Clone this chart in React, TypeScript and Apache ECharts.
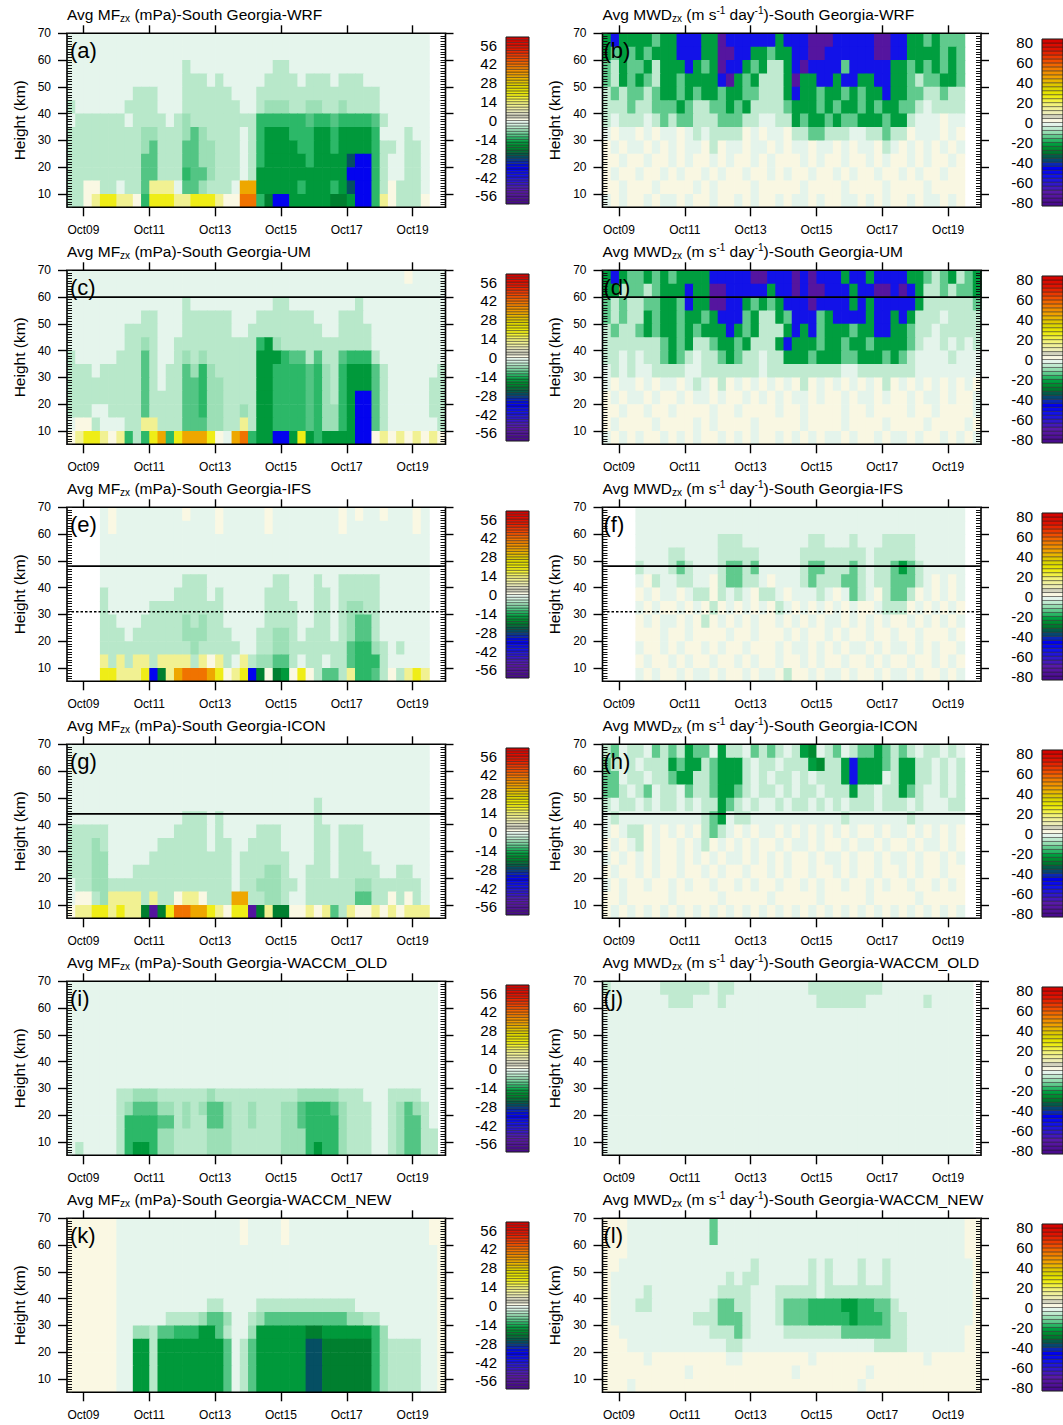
import React, { useEffect, useRef } from "react";
import * as echarts from "echarts";

// ---------- data grid: time columns (day of October) and height rows (km) ----------
const T_START = 8.5;
const T_STEP = 0.25;
const N_COLS = 46;
const H_TOP = 70;
const H_STEP = 5;
const X_MIN = 8.5;
const X_MAX = 20;
const Y_MIN = 5;
const Y_MAX = 70;

const X_TICKS = [9, 11, 13, 15, 17, 19];
const X_TICK_LABELS = ["Oct09", "Oct11", "Oct13", "Oct15", "Oct17", "Oct19"];
const Y_TICKS = [10, 20, 30, 40, 50, 60, 70];
const MF_BAR_TICKS = [-56, -42, -28, -14, 0, 14, 28, 42, 56];
const MWD_BAR_TICKS = [-80, -60, -40, -20, 0, 20, 40, 60, 80];
const MF_BAR_LIMIT = 62;
const MF_BAR_STEP = 2;
const MWD_BAR_LIMIT = 84;
const MWD_BAR_STEP = 4;

const CODE_CHARS = ["0", "1", "2", "3", "4", "5", "6", "7", "8", "9", "h", "+", "a", "b", "c", "d", "e"];
const MF_CODE_VALUES = [-1.5, -5, -8, -12, -14, -17, -21, -28, -36, -56, -10, 1, 10, 18, 32, 40, 50];
const MWD_CODE_VALUES = [-2, -7, -13, -22, -28, -32, -36, -44, -55, -76, -18, 2, 14, 25, 45, 57, 70];

// rows from 65-70 km (top) down to 5-10 km; columns every 0.25 day from Oct 8.5; "." = no data
const WRF_MF = [
  "0000 0000 0000 0000 0000 0000 0000 0000 0000 0000 0000 ..",
  "0000 0000 0000 0000 0000 0000 0000 0000 0000 0000 0000 ..",
  "0000 0000 0000 0010 0000 0000 0110 0000 0000 0000 0000 ..",
  "0000 0000 0000 0011 1010 0000 1111 0111 0111 0000 0000 ..",
  "0000 0000 1110 0011 1111 0001 1111 1111 1111 1100 0000 ..",
  "1000 0001 1110 0011 1111 1001 2221 1221 1211 1100 0000 ..",
  "0111 1110 1111 0121 1111 1114 4444 4344 3444 4310 0000 ..",
  "1111 1111 1221 1123 2111 1014 5554 4455 4555 5400 0100 ..",
  "1111 1111 1231 1133 2211 1014 5555 4455 4555 5411 0110 ..",
  "1111 1111 1331 1133 2211 1014 5555 5455 5578 8410 0110 ..",
  "1111 1111 1331 1143 3211 1015 5555 5555 5588 8410 0110 ..",
  "11++ 1101 13aa a033 2111 0cc5 5555 4555 4578 841+ 1110 ..",
  "11+a bbaa +4bb baab bba+ +dd4 6885 5555 6658 84a+ 111+ ..",
];
const WRF_MWD = [
  "3833 3323 3888 3398 8888 8388 8999 8888 8998 8332 3222 ..",
  "3232 3233 3888 3399 8833 2338 8998 8888 8998 8333 3232 ..",
  "2132 2313 3383 2398 8323 1138 9888 8288 8883 3232 3232 ..",
  "2132 3213 3233 3389 3231 1139 3388 3883 3883 3212 2332 ..",
  "1212 2123 3232 3323 3221 1138 3323 3232 3383 3221 1211 ..",
  "1112 1122 2321 1223 2311 1123 3323 2332 3233 2210 1111 ..",
  "1011 1012 1221 1122 2110 0113 2332 3223 3323 3100 0+00 ..",
  "0+00 +0+0 0+01 0111 1+0+ 00+1 1221 1100 1121 1+00 0+0+ ..",
  "+0+0 0+0+ 0+00 +1+0 0+00 +0+0 0+00 +0+0 0+10 +0+0 +0+0 ..",
  "++0+ +0++ 0+0+ +0+0 ++0+ 0+++ 0+0+ +0++ 0+0+ +0+0 ++0+ ..",
  "+0++ 0++0 +0++ 0+0+ +0++ 0+0+ +0++ 0+0+ +0++ 0+0+ +0++ ..",
  "++0+ ++0+ +++0 +0++ ++0+ ++++ 0+++ +0++ ++0+ +++0 ++++ ..",
  "0+0+ +0+0 0+0+ +0++ 0+0+ +0+0 0+0+ +00+ 0+0+ +0+0 0+0+ ..",
];
const UM_MF = [
  "0000 0000 0000 0000 0000 0000 0000 0000 0000 0000 0+00 00",
  "0000 0000 0000 0000 0000 0000 0000 0000 0000 0000 0000 00",
  "0000 0000 0000 0010 0000 0000 0110 0000 0001 0000 0000 00",
  "0000 0000 0110 0011 1111 0001 1111 1100 0111 0000 0000 00",
  "0000 0001 1110 0011 1111 0011 1111 1110 0111 1000 0000 00",
  "0000 0001 1210 0111 1111 1114 5211 1111 1111 1000 0000 00",
  "1000 0011 1310 0121 2111 1115 5543 3131 1344 4100 0000 00",
  "1110 1111 1310 1132 4211 1115 5444 4342 1455 5310 0000 01",
  "1111 1111 1310 1133 4221 1115 5444 4342 1455 5310 0000 11",
  "1111 1111 1311 1133 4221 1115 5444 4342 1458 8310 0000 11",
  "1110 0111 1311 1133 4221 1215 5444 4342 2458 8310 0000 11",
  "0++1 0001 1aa1 1133 3221 1a15 5444 4342 2458 8310 0000 01",
  "+abb a+a4 14bc 4bcc cb+0 cd45 5885 b545 5558 8+a+ a+a+ a+",
];
const UM_MWD = [
  "3832 2323 2333 3888 8899 8889 8988 8388 3888 8332 1231 23",
  "3312 2123 3383 3998 8888 3889 8998 8838 8998 9831 1212 23",
  "2121 1223 3283 3998 8323 2388 8988 8838 3888 8831 1111 12",
  "2121 1323 3233 2388 8231 1328 8823 8888 3883 8311 1011 11",
  "1211 2323 3232 3338 3231 1138 3823 3323 3883 3211 0111 11",
  "1111 1112 3231 1233 2311 1383 3323 3233 2333 3210 0101 01",
  "1101 0112 3210 1123 2110 1133 3233 3223 3323 2100 0010 00",
  "0101 0011 1100 1111 1110 1111 1111 1001 1111 1100 0000 00",
  "0+00 +0+0 0+01 0+1+ 0+0+ 0+0+ 1+0+ 0+0+ 0+1+ 0+0+ 0+0+ 0+",
  "+0+0 0+0+ +0+0 0+0+ +0+0 +0+0 0+0+ +0+0 0+0+ +0+0 0+0+ +0",
  "++0+ +0++ 0+++ +0++ 0+++ +0++ 0+++ +0++ 0+++ +0++ 0+++ +0",
  "+0++ ++0+ +++0 +0++ ++0+ ++++ 0+++ +0++ ++0+ +++0 ++++ 0+",
  "0+0+ 0++0 +0+0 ++0+ 0+0+ +0+0 +0+0 0+0+ +0+0 0+0+ +0+0 +0",
];
const IFS_MF = [
  ".... 0+00 0000 00+0 00+0 0000 +000 0000 0+0+ 00+0 00+0 ..",
  ".... 0+00 0000 0000 00+0 0000 +000 0000 0+00 0000 00+0 ..",
  ".... 0000 0000 0000 0000 0000 0000 0000 0000 0000 0000 ..",
  ".... 0000 0000 0000 0000 0000 0000 0000 0000 0000 0000 ..",
  ".... 0000 0000 0000 0000 0000 0000 0000 0000 0000 0000 ..",
  ".... 0000 0000 0011 1000 0000 0110 0010 0111 1100 0000 ..",
  ".... 1000 0000 0111 1010 0000 1110 0011 0111 1100 0000 ..",
  ".... 1000 0011 1111 1110 0000 1111 0011 0122 1100 0000 ..",
  ".... 1100 0111 1121 2110 0000 1111 0011 0123 3100 0000 ..",
  ".... 1110 1111 1122 2111 0001 1221 0111 0123 3100 0000 ..",
  ".... 1111 1111 1112 1111 1001 1221 1111 1134 4210 1000 ..",
  ".... a1a1 aa1a aaa1 a+a1 0a12 2331 0110 1134 4410 0000 ..",
  ".... bbaa ab86 acdd dcb+ ab86 +65+ b+13 31a4 431+ 1aba ..",
];
const IFS_MWD = [
  ".... 0000 0000 0000 0000 0000 0000 0000 0000 0000 0000 ..",
  ".... 0000 0000 0000 0000 0000 0000 0000 0000 0000 0000 ..",
  ".... 0000 0000 0011 1000 0000 0110 0010 0011 1100 0000 ..",
  ".... 0000 1100 0011 1110 0000 1111 1111 0111 1100 0000 ..",
  ".... 1000 1210 0012 2120 0000 1221 1121 0112 3210 0000 ..",
  ".... 0+10 0110 0+12 2110 +000 1211 1221 0112 2210 +0+0 ..",
  ".... +0+0 0+01 1+10 10+1 10+0 0010 +021 0+12 21+0 +0+0 ..",
  ".... 0+0+ +0+0 +1+0 +0+0 +10+ 0+0+ 0+0+ +011 1+0+ 0+0+ ..",
  ".... +0+0 0+0+ 1+0+ 0+0+ +0+0 +0+0 0+0+ 0+0+ +0+0 +0+0 ..",
  ".... +++0 ++0+ +++0 ++0+ ++0+ 0++0 +0++ 0++0 ++0+ ++0+ ..",
  ".... 0++0 +0++ 0+0+ +0++ +0+0 0+0+ 0+00 +0+0 0+0+ 0++0 ..",
  ".... +0++ 0+0+ +0++ 0+0+ +0++ 0+0+ +0++ 0+0+ +0++ 0+0+ ..",
  ".... 0+0+ +0+0 0+0+ +0+0 0+1+ +0+0 0+0+ +0+0 0+0+ +0+0 ..",
];
const ICON_MF = [
  "0000 0000 0000 0000 0000 0000 0000 0000 0000 0000 0000 ..",
  "0000 0000 0000 0000 0000 0000 0000 0000 0000 0000 0000 ..",
  "0000 0000 0000 0000 0000 0000 0000 0000 0000 0000 0000 ..",
  "0000 0000 0000 0000 0000 0000 0000 0000 0000 0000 0000 ..",
  "0000 0000 0000 0000 0000 0000 0000 0010 0000 0000 0000 ..",
  "0000 0000 0000 0011 1010 0000 0000 0010 0000 0000 0000 ..",
  "1111 1000 0000 0111 1010 0001 1100 0011 0111 0000 0000 ..",
  "1112 1000 0001 1111 1011 0011 1100 0011 0111 0000 0000 ..",
  "1112 2000 0011 1111 1111 0111 1110 0011 0111 1000 0000 ..",
  "1112 2000 1111 1111 1111 0111 2210 0111 0111 1100 1100 ..",
  "0112 2111 1111 1111 1111 0112 2211 0111 1112 2111 1110 ..",
  "0++1 2aaa a1a1 1+aa +111 cc11 2210 0111 1113 311+ 1+10 ..",
  "+aab baba a696 bddc cba+ bb96 a66+ +a+a 31a+ +a+a +aaa ..",
];
const ICON_MWD = [
  "1201 1021 2132 2031 1021 2101 3401 2012 2321 2101 1010 ..",
  "2101 0111 3233 1233 3101 1011 1341 1383 3321 3311 0101 ..",
  "2201 1011 2331 1233 3101 0110 1011 1383 3301 3311 0101 ..",
  "2210 1201 1021 1233 2101 1010 1101 1131 1011 3210 0101 ..",
  "1011 0101 1010 1132 1010 0101 1010 1011 1011 1010 0011 ..",
  "0100 0000 0000 1230 1100 0000 0000 0100 0000 0100 0000 ..",
  "0+01 1+0+ 0+0+ 1210 +0+0 0+0+ 0+0+ 0+0+ +0+0 0+0+ 0+0+ ..",
  "+0+0 1+0+ +0+0 1+0+ 0+0+ +0+0 0+0+ +0+0 0+0+ +0+0 0+0+ ..",
  "0+0+ 0+0+ +0+0 +0+0 0+0+ 0+0+ +0+0 0+0+ +0+0 0+0+ +0+0 ..",
  "+0++ 0+0+ +0++ 0+0+ +0++ 0+0+ +0++ 0+0+ +0++ 0+0+ +0++ ..",
  "0+0+ +0++ 0+0+ +0++ 0+0+ +0++ 0+0+ +0++ 0+0+ +0++ 0+0+ ..",
  "++0+ ++++ 0+++ ++0+ ++++ 0+++ ++0+ ++++ 0+++ ++0+ ++++ ..",
  "+0+0 +0+0 +0+0 +0+0 +0+0 +0+0 +0+0 +0+0 +0+0 +0+0 +0+0 ..",
];
const WACCM_OLD_MF = [
  "0000 0000 0000 0000 0000 0000 0000 0000 0000 0000 0000 0.",
  "0000 0000 0000 0000 0000 0000 0000 0000 0000 0000 0000 0.",
  "0000 0000 0000 0000 0000 0000 0000 0000 0000 0000 0000 0.",
  "0000 0000 0000 0000 0000 0000 0000 0000 0000 0000 0000 0.",
  "0000 0000 0000 0000 0000 0000 0000 0000 0000 0000 0000 0.",
  "0000 0000 0000 0000 0000 0000 0000 0000 0000 0000 0000 0.",
  "0000 0000 0000 0000 0000 0000 0000 0000 0000 0000 0000 0.",
  "0000 0000 0000 0000 0000 0000 0000 0000 0000 0000 0000 0.",
  "0000 0011 2221 1111 1211 1111 1111 2222 2111 0001 1110 0.",
  "0000 0012 3332 2121 2332 1121 1122 3444 3211 1001 2321 0.",
  "0000 0014 4443 3121 1332 1121 1122 3444 4211 1001 2331 0.",
  "0000 0014 4442 2111 1222 1111 1122 2444 4211 1001 2331 1.",
  "0100 0014 5542 2111 1222 1111 1122 2454 4211 1001 2331 1.",
];
const WACCM_OLD_MWD = [
  "1000 0001 1111 1011 0000 0000 0111 1111 1100 0000 0000 0.",
  "0000 0000 1110 0010 0000 0000 0011 1111 0000 0001 0000 0.",
  "0000 0000 0000 0000 0000 0000 0000 0000 0000 0000 0000 0.",
  "0000 0000 0000 0000 0000 0000 0000 0000 0000 0000 0000 0.",
  "0000 0000 0000 0000 0000 0000 0000 0000 0000 0000 0000 0.",
  "0000 0000 0000 0000 0000 0000 0000 0000 0000 0000 0000 0.",
  "0000 0000 0000 0000 0000 0000 0000 0000 0000 0000 0000 0.",
  "0000 0000 0000 0000 0000 0000 0000 0000 0000 0000 0000 0.",
  "0000 0000 0000 0000 0000 0000 0000 0000 0000 0000 0000 0.",
  "0000 0000 0000 0000 0000 0000 0000 0000 0000 0000 0000 0.",
  "0000 0000 0000 0000 0000 0000 0000 0000 0000 0000 0000 0.",
  "0000 0000 0000 0000 0000 0000 0000 0000 0000 0000 0000 0.",
  "0000 0000 0000 0000 0000 0000 0000 0000 0000 0000 0000 0.",
];
const WACCM_NEW_MF = [
  "++++ ++00 0000 0000 0000 0+00 00+0 0000 0000 0000 0000 ++",
  "++++ ++00 0000 0000 0000 0+00 00+0 0000 0000 0000 0000 ++",
  "++++ ++00 0000 0000 0000 0000 0000 0000 0000 0000 0000 0+",
  "++++ ++00 0000 0000 0000 0000 0000 0000 0000 0000 0000 0+",
  "++++ ++00 0000 0000 0000 0000 0000 0000 0000 0000 0000 0+",
  "++++ ++00 0000 0000 0000 0000 0000 0000 0000 0000 0000 0+",
  "++++ ++00 0000 0000 0110 0001 1111 1111 1110 0000 0000 0+",
  "++++ ++00 0000 1111 2332 0012 3333 3333 3322 1100 0000 0+",
  "++++ ++00 2213 3444 5531 0025 5555 5665 5555 5420 0000 0+",
  "++++ ++00 5515 5555 5553 0135 5555 5776 6666 6421 1110 0+",
  "++++ ++00 5515 5555 5553 0135 5555 5776 6666 6421 1110 0+",
  "++++ ++00 5515 5555 5553 0135 5555 5776 6666 6421 1110 0+",
  "++++ ++00 5515 5555 5553 0135 5555 5776 6666 6421 1110 0+",
];
const WACCM_NEW_MWD = [
  "+++0 0000 0000 0200 0000 0000 0000 0000 0000 0000 0000 ++",
  "+++0 0000 0000 0200 0000 0000 0000 0000 0000 0000 0000 ++",
  "+++0 0000 0000 0000 0000 0000 0000 0000 0000 0000 0000 ++",
  "++00 0000 0000 0000 0010 0000 0101 0001 0010 0000 0000 0+",
  "+000 0000 0000 0001 0110 0000 0101 0001 0010 0000 0000 0+",
  "+000 0100 0000 0011 1100 0111 1101 1111 1110 0000 0000 0+",
  "+000 1100 0000 0122 1100 0122 2hhh h33h h221 0000 0000 0+",
  "+000 0000 0001 1122 2100 0122 2hhh hh3h hh21 1000 0000 0+",
  "++00 0000 0000 0111 2100 0011 1111 1222 2221 1000 0000 ++",
  "+++0 0000 0000 0001 1000 0000 0000 0000 0111 1000 0000 ++",
  "++++ +0++ ++++ +++0 0+++ ++++ +0++ ++++ ++++ +++0 ++++ ++",
  "++++ ++++ ++0+ ++++ ++++ +++0 ++++ ++++ 0+++ ++++ ++++ ++",
  "+++0 ++++ ++++ ++++ ++++ ++++ ++++ +++0 ++++ ++++ ++++ ++",
];

const MODELS = ["WRF", "UM", "IFS", "ICON", "WACCM_OLD", "WACCM_NEW"];
const MF_ROWS = [WRF_MF, UM_MF, IFS_MF, ICON_MF, WACCM_OLD_MF, WACCM_NEW_MF];
const MWD_ROWS = [WRF_MWD, UM_MWD, IFS_MWD, ICON_MWD, WACCM_OLD_MWD, WACCM_NEW_MWD];
const LETTERS = ["a", "b", "c", "d", "e", "f", "g", "h", "i", "j", "k", "l"];
const SOLID_LINE_KM = [[], [60], [48], [44], [], []];
const DOTTED_LINE_KM = [[], [], [31], [], [], []];

// ---------- colour scale (style) ----------
const RAMP_STOPS = [-62, -52, -46, -40, -34, -31, -28, -25, -22, -19, -16, -13, -10, -7, -4, -2, 0, 0.001, 2, 3, 5, 7, 10, 14, 18, 22, 26, 30, 34, 38, 42, 46, 50, 54, 62];
const RAMP_COLORS = ["#46088a", "#5a1aa6", "#3218c8", "#1212e8", "#0000f0", "#0a28b4", "#064870", "#045c48", "#00782e", "#008c30", "#00a040", "#2cb868", "#66cc92", "#9cdfb6", "#c6ecd4", "#e2f4ea", "#e8f5ee", "#fbf9e6", "#f8f6e0", "#c8c8b4", "#d8d8c0", "#ececb8", "#f0f09c", "#f2f272", "#f2f01e", "#e6e400", "#d8d000", "#e6bc00", "#f0a000", "#f08800", "#f06c00", "#f04c00", "#e83000", "#e01400", "#d40000"];

const FONT = "'Liberation Sans', Arial, Helvetica, sans-serif";

function hexRgb(h: string) {
  return [parseInt(h.slice(1, 3), 16), parseInt(h.slice(3, 5), 16), parseInt(h.slice(5, 7), 16)];
}
function rampColor(x: number) {
  if (x <= RAMP_STOPS[0]) return RAMP_COLORS[0];
  const n = RAMP_STOPS.length;
  if (x >= RAMP_STOPS[n - 1]) return RAMP_COLORS[n - 1];
  for (let j = 0; j < n - 1; j++) {
    if (x >= RAMP_STOPS[j] && x <= RAMP_STOPS[j + 1]) {
      const f = (x - RAMP_STOPS[j]) / (RAMP_STOPS[j + 1] - RAMP_STOPS[j]);
      const a = hexRgb(RAMP_COLORS[j]);
      const b = hexRgb(RAMP_COLORS[j + 1]);
      const c = a.map((v, k) => Math.round(v + (b[k] - v) * f));
      return `rgb(${c[0]},${c[1]},${c[2]})`;
    }
  }
  return RAMP_COLORS[n - 1];
}
function barParams(kind: string) {
  return kind === "mf" ? { lim: MF_BAR_LIMIT, step: MF_BAR_STEP } : { lim: MWD_BAR_LIMIT, step: MWD_BAR_STEP };
}
function boxLow(v: number, kind: string) {
  const { lim, step } = barParams(kind);
  let lo = Math.floor(v / step) * step;
  if (lo < -lim) lo = -lim;
  if (lo > lim - step) lo = lim - step;
  return lo;
}
function boxColor(lo: number, kind: string) {
  const { lim, step } = barParams(kind);
  return rampColor(((lo + step / 2) * MF_BAR_LIMIT) / lim);
}

function cellsFor(rows: string[], kind: string) {
  const vals = kind === "mf" ? MF_CODE_VALUES : MWD_CODE_VALUES;
  const out: number[][] = [];
  rows.forEach((raw, r) => {
    const s = (raw.replace(/ /g, "") + ".".repeat(N_COLS)).slice(0, N_COLS);
    for (let i = 0; i < N_COLS; i++) {
      const k = CODE_CHARS.indexOf(s[i]);
      if (k < 0) continue;
      out.push([T_START + i * T_STEP, H_TOP - (r + 1) * H_STEP, vals[k]]);
    }
  });
  return out;
}

function buildOption() {
  const grid: any[] = [];
  const xAxis: any[] = [];
  const yAxis: any[] = [];
  const series: any[] = [];
  const graphic: any[] = [];
  const black = "#000";
  const tickStyle = { color: black, width: 1.4 };
  const minorStyle = { color: "#111", width: 1 };
  const AZ = 10;

  for (let p = 0; p < 12; p++) {
    const row = Math.floor(p / 2);
    const col = p % 2;
    const kind = col === 0 ? "mf" : "mwd";
    const rows = col === 0 ? MF_ROWS[row] : MWD_ROWS[row];
    const top = 33.3 + 237 * row;
    const left = col === 0 ? 67 : 602.5;
    const width = 378.5;
    const height = 174;

    // ---- plot grid (border drawn above the cells) ----
    const gi = grid.length;
    grid.push({ left, top, width, height, show: true, borderColor: black, borderWidth: 1.6, backgroundColor: "transparent", z: AZ });
    const xi = xAxis.length;
    xAxis.push({
      gridIndex: gi, type: "value", min: X_MIN, max: X_MAX, position: "bottom", z: AZ,
      axisLine: { show: false }, splitLine: { show: false },
      axisTick: { show: true, customValues: X_TICKS, length: 9, lineStyle: tickStyle },
      axisLabel: {
        customValues: X_TICKS, fontSize: 12, color: black, fontFamily: FONT, margin: 17,
        formatter: (v: number) => X_TICK_LABELS[X_TICKS.indexOf(Math.round(v))] || "",
      },
    });
    xAxis.push({
      gridIndex: gi, type: "value", min: X_MIN, max: X_MAX, position: "top", z: AZ,
      axisLine: { show: false }, splitLine: { show: false },
      axisTick: { show: true, customValues: X_TICKS, length: 8, lineStyle: tickStyle },
      axisLabel: { show: false, customValues: X_TICKS },
    });
    const yi = yAxis.length;
    yAxis.push({
      gridIndex: gi, type: "value", min: Y_MIN, max: Y_MAX, position: "left", z: AZ,
      name: "Height (km)", nameLocation: "middle", nameGap: 40,
      nameTextStyle: { fontSize: 15.5, color: black, fontFamily: FONT },
      axisLine: { show: false }, splitLine: { show: false },
      axisTick: { show: true, customValues: Y_TICKS, length: 9, lineStyle: tickStyle },
      axisLabel: { customValues: Y_TICKS, fontSize: 12, color: black, fontFamily: FONT, margin: 16 },
    });
    yAxis.push({
      gridIndex: gi, type: "value", min: Y_MIN, max: Y_MAX, interval: 1, position: "left", z: AZ,
      axisLine: { show: false }, splitLine: { show: false }, axisLabel: { show: false },
      axisTick: { show: true, inside: true, length: 5, lineStyle: minorStyle },
    });
    yAxis.push({
      gridIndex: gi, type: "value", min: Y_MIN, max: Y_MAX, position: "right", z: AZ,
      axisLine: { show: false }, splitLine: { show: false },
      axisTick: { show: true, customValues: Y_TICKS, length: 8, lineStyle: tickStyle },
      axisLabel: { show: false, customValues: Y_TICKS },
    });
    yAxis.push({
      gridIndex: gi, type: "value", min: Y_MIN, max: Y_MAX, interval: 1, position: "right", z: AZ,
      axisLine: { show: false }, splitLine: { show: false }, axisLabel: { show: false },
      axisTick: { show: true, inside: true, length: 5, lineStyle: minorStyle },
    });

    series.push({
      type: "custom", xAxisIndex: xi, yAxisIndex: yi, clip: true, silent: true, z: 1,
      data: cellsFor(rows, kind),
      renderItem: (params: any, api: any) => {
        const t = api.value(0);
        const h = api.value(1);
        const v = api.value(2);
        const a = api.coord([t, h + H_STEP]);
        const b = api.coord([t + T_STEP, h]);
        return {
          type: "rect",
          shape: { x: a[0], y: a[1], width: b[0] - a[0] + 0.7, height: b[1] - a[1] + 0.7 },
          style: { fill: boxColor(boxLow(v, kind), kind) },
        };
      },
    });
    SOLID_LINE_KM[row].forEach((km) => {
      series.push({
        type: "line", xAxisIndex: xi, yAxisIndex: yi, symbol: "none", silent: true, z: 5,
        data: [[X_MIN, km], [X_MAX, km]], lineStyle: { color: black, width: 1.7 },
      });
    });
    DOTTED_LINE_KM[row].forEach((km) => {
      series.push({
        type: "line", xAxisIndex: xi, yAxisIndex: yi, symbol: "none", silent: true, z: 5,
        data: [[X_MIN, km], [X_MAX, km]], lineStyle: { color: black, width: 1.6, type: [2.5, 2] },
      });
    });

    // ---- colour bar ----
    const { lim, step } = barParams(kind);
    const cbi = grid.length;
    grid.push({
      left: col === 0 ? 506 : 1042, top: top + (col === 0 ? 3.7 : 5.7), width: 23, height: 167,
      show: true, borderColor: "#222", borderWidth: 0.8, backgroundColor: "transparent", z: AZ,
    });
    const cxi = xAxis.length;
    xAxis.push({ gridIndex: cbi, type: "value", min: 0, max: 1, show: false });
    const cyi = yAxis.length;
    yAxis.push({
      gridIndex: cbi, type: "value", min: -lim, max: lim, position: "left",
      axisLine: { show: false }, axisTick: { show: false }, splitLine: { show: false },
      axisLabel: { customValues: kind === "mf" ? MF_BAR_TICKS : MWD_BAR_TICKS, fontSize: 15, color: black, fontFamily: FONT, margin: 9 },
    });
    const boxes: number[][] = [];
    for (let lo = -lim; lo < lim; lo += step) boxes.push([0, lo]);
    series.push({
      type: "custom", xAxisIndex: cxi, yAxisIndex: cyi, silent: true, data: boxes,
      renderItem: (params: any, api: any) => {
        const lo = api.value(1);
        const a = api.coord([0, lo + step]);
        const b = api.coord([1, lo]);
        return {
          type: "rect",
          shape: { x: a[0], y: a[1], width: b[0] - a[0], height: b[1] - a[1] },
          style: { fill: boxColor(lo, kind), stroke: "#1a1a1a", lineWidth: 0.45 },
        };
      },
    });

    // ---- title and panel letter ----
    const model = MODELS[row];
    const titleText = kind === "mf"
      ? `{n|Avg MF}{s|zx}{n| (mPa)-South Georgia-${model}}`
      : `{n|Avg MWD}{s|zx}{n| (m s}{p|-1}{n| day}{p|-1}{n|)-South Georgia-${model}}`;
    graphic.push({
      type: "text", x: left, y: top - 18.7, z: 100, silent: true,
      style: {
        text: titleText, fill: black, verticalAlign: "middle", align: "left",
        rich: {
          n: { fontSize: 15.5, fontFamily: FONT, lineHeight: 18, fill: black, verticalAlign: "middle" },
          s: { fontSize: 10, fontFamily: FONT, lineHeight: 12, fill: black, verticalAlign: "bottom" },
          p: { fontSize: 10, fontFamily: FONT, lineHeight: 12, fill: black, verticalAlign: "top" },
        },
      },
    });
    graphic.push({
      type: "text", x: left + (col === 0 ? 3 : 1), y: top + 17.5, z: 100, silent: true,
      style: { text: `(${LETTERS[p]})`, fill: black, fontSize: 22, fontFamily: FONT, verticalAlign: "middle", align: "left" },
    });
  }

  return { animation: false, backgroundColor: "#fff", grid, xAxis, yAxis, series, graphic };
}

export default function App() {
  const ref = useRef<HTMLDivElement>(null);
  useEffect(() => {
    if (!ref.current) return;
    const chart = echarts.init(ref.current, null, { renderer: "svg" });
    chart.setOption(buildOption() as any);
    return () => chart.dispose();
  }, []);
  return (
    <div
      ref={ref}
      style={{ position: "absolute", left: 0, top: 0, width: 1063, height: 1425, background: "#fff" }}
    />
  );
}
